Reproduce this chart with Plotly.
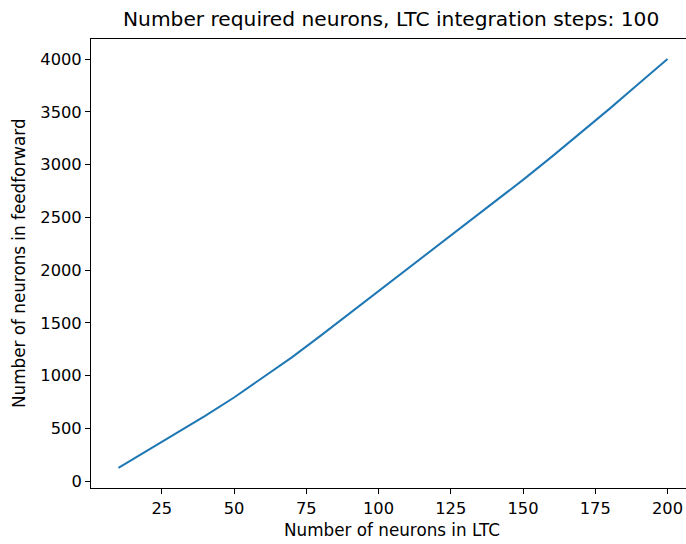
import plotly.graph_objects as go

ltc_neurons = [10, 20, 30, 40, 50, 60, 70, 80, 90, 100, 110, 120, 130, 140, 150, 160, 170, 180, 190, 200]
ff_neurons = [125, 288, 450, 618, 792, 978, 1172, 1378, 1588, 1800, 2010, 2220, 2430, 2640, 2855, 3075, 3300, 3530, 3765, 4000]
x_ticks = [25, 50, 75, 100, 125, 150, 175, 200]
y_ticks = [0, 500, 1000, 1500, 2000, 2500, 3000, 3500, 4000]

title = "Number required neurons, LTC integration steps: 100"
xlabel = "Number of neurons in LTC"
ylabel = "Number of neurons in feedforward"

font = "DejaVu Sans"
tick_size = 16.3
label_size = 16.8
title_size = 20.2

fig = go.Figure()
fig.add_trace(go.Scatter(x=ltc_neurons, y=ff_neurons, mode="lines",
                         line=dict(color="#1f77b4", width=2), showlegend=False))

L, R, T, B = 91, 0, 39, 56
W, H = 686, 544

fig.update_layout(
    width=W, height=H,
    margin=dict(l=L, r=R, t=T, b=B, pad=0),
    paper_bgcolor="white", plot_bgcolor="white",
    font=dict(family=font, size=tick_size, color="black"),
    xaxis=dict(range=[0.5, 206.4], tickvals=x_ticks, ticks="outside", ticklen=5,
               tickwidth=1, tickcolor="black", showgrid=False, zeroline=False,
               showline=True, linecolor="black", linewidth=1, mirror=True,
               tickfont=dict(family=font, size=tick_size, color="black")),
    yaxis=dict(range=[-66, 4190], tickvals=y_ticks, ticks="outside", ticklen=5,
               tickwidth=1, tickcolor="black", showgrid=False, zeroline=False,
               showline=True, linecolor="black", linewidth=1, mirror=False,
               tickfont=dict(family=font, size=tick_size, color="black")),
    annotations=[
        dict(text=title, x=391 / W, y=1 - 19 / H, xref="paper", yref="paper",
             xanchor="center", yanchor="middle", showarrow=False,
             font=dict(family=font, size=title_size, color="black")),
        dict(text=xlabel, x=392 / W, y=1 - 530 / H, xref="paper", yref="paper",
             xanchor="center", yanchor="middle", showarrow=False,
             font=dict(family=font, size=label_size, color="black")),
        dict(text=ylabel, x=19 / W, y=1 - 263 / H, xref="paper", yref="paper",
             xanchor="center", yanchor="middle", showarrow=False, textangle=-90,
             font=dict(family=font, size=label_size, color="black")),
    ],
)
for a in fig.layout.annotations:
    px = a.x * W
    py = (1 - a.y) * H
    a.x = (px - L) / (W - L - R)
    a.y = 1 - (py - T) / (H - T - B)

fig.write_html("out.html")
